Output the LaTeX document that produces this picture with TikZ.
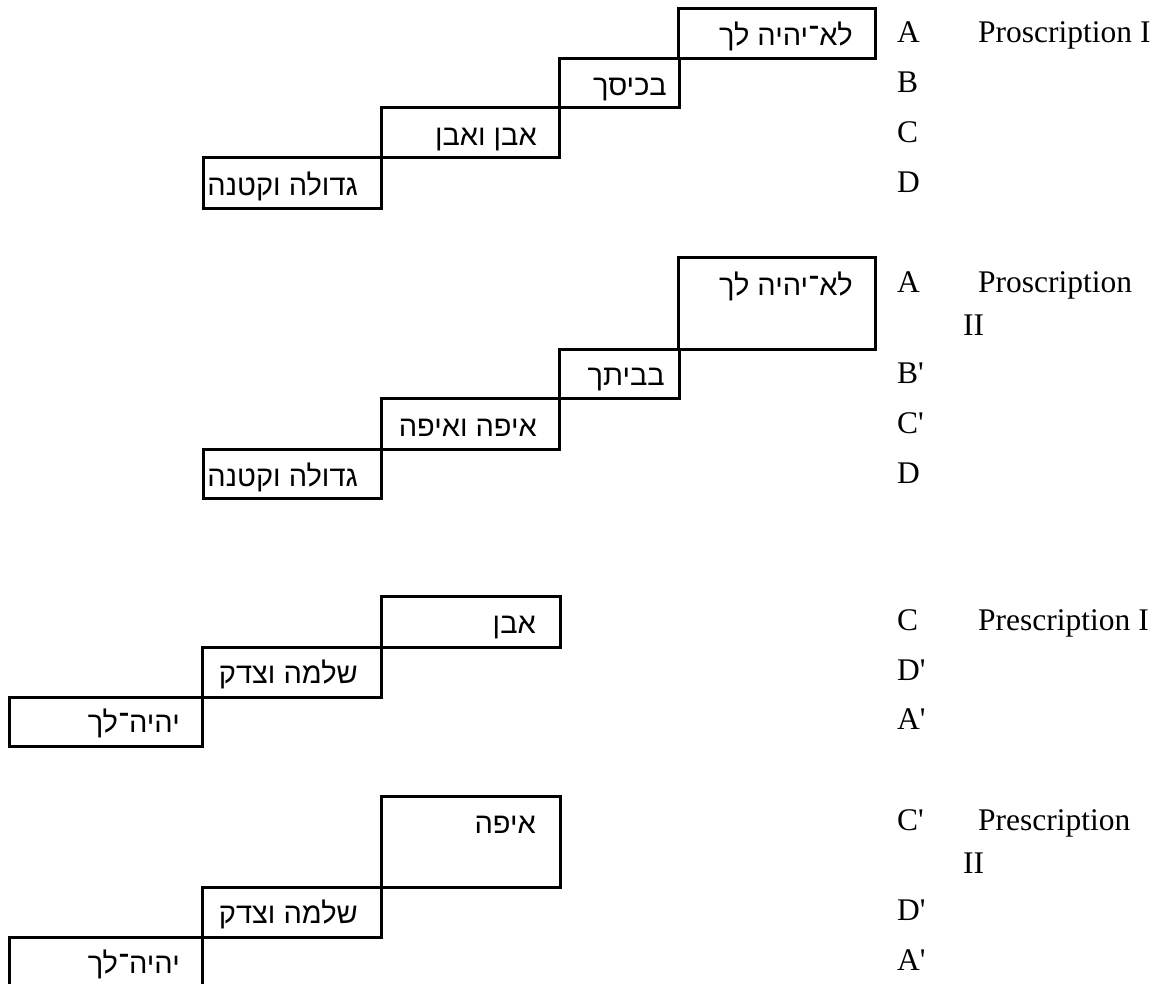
\documentclass[tikz,border=0pt]{standalone}
\usepackage{fontspec}
\TeXXeTstate=1
\newfontfamily\latfont{Liberation Serif}
\newfontfamily\hebfont[Script=Hebrew]{Liberation Sans}
\newcommand{\pr}{\char"27\relax}
\begin{document}
\begin{tikzpicture}[x=1pt,y=-1pt,
  cell/.style={draw=black, line width=3pt, inner sep=0pt, outer sep=0pt},
  heb/.style={anchor=base east, inner sep=0pt, font=\hebfont\fontsize{29}{34}\selectfont},
  lat/.style={anchor=base west, inner sep=0pt, font=\latfont\fontsize{31.5}{37}\selectfont}]
\fill[white] (0,0) rectangle (1166,984);
\useasboundingbox (0,0) rectangle (1166,984);
% ---------- Block 1: Proscription I ----------
\node[cell, minimum width=197pt, minimum height=50pt] (p1a) at (776.5,34) {};
\node[cell, minimum width=120pt, minimum height=49pt] (p1b) at (619,83.5) {};
\node[cell, minimum width=178pt, minimum height=50pt] (p1c) at (470,133) {};
\node[cell, minimum width=178pt, minimum height=51pt] (p1d) at (292,183.5) {};
\node[heb] (t1a) at (853,46) {\beginR לא־יהיה לך\endR};
\node[heb] (t1b) at (667,96) {\beginR בכיסך\endR};
\node[heb] (t1c) at (537,146) {\beginR אבן ואבן\endR};
\node[heb] (t1d) at (358,196) {\beginR גדולה וקטנה\endR};
\node[lat] (l1a) at (897,43) {A};
\node[lat] (l1b) at (897,93) {B};
\node[lat] (l1c) at (897,143) {C};
\node[lat] (l1d) at (897,193) {D};
\node[lat] (h1) at (978,43) {Proscription I};
% ---------- Block 2: Proscription II ----------
\node[cell, minimum width=197pt, minimum height=92pt] (p2a) at (776.5,303) {};
\node[cell, minimum width=120pt, minimum height=49pt] (p2b) at (619,373.5) {};
\node[cell, minimum width=178pt, minimum height=51pt] (p2c) at (470,423.5) {};
\node[cell, minimum width=178pt, minimum height=49pt] (p2d) at (292,473.5) {};
\node[heb] (t2a) at (853,295) {\beginR לא־יהיה לך\endR};
\node[heb] (t2b) at (665,385) {\beginR בביתך\endR};
\node[heb] (t2c) at (537,436) {\beginR איפה ואיפה\endR};
\node[heb] (t2d) at (358,486) {\beginR גדולה וקטנה\endR};
\node[lat] (l2a) at (897,292) {A};
\node[lat] (l2b) at (897,383) {B\pr};
\node[lat] (l2c) at (897,433) {C\pr};
\node[lat] (l2d) at (897,483) {D};
\node[lat] (h2) at (978,292) {Proscription};
\node[lat] (h2b) at (963,335) {II};
% ---------- Block 3: Prescription I ----------
\node[cell, minimum width=179pt, minimum height=51pt] (p3c) at (470.5,621.5) {};
\node[cell, minimum width=179pt, minimum height=50pt] (p3d) at (291.5,672) {};
\node[cell, minimum width=193pt, minimum height=49pt] (p3a) at (105.5,721.5) {};
\node[heb] (t3c) at (536,633) {\beginR אבן\endR};
\node[heb] (t3d) at (358,683) {\beginR שלמה וצדק\endR};
\node[heb] (t3a) at (180,732) {\beginR יהיה־לך\endR};
\node[lat] (l3c) at (897,630) {C};
\node[lat] (l3d) at (897,680) {D\pr};
\node[lat] (l3a) at (897,729) {A\pr};
\node[lat] (h3) at (978,630) {Prescription I};
% ---------- Block 4: Prescription II ----------
\node[cell, minimum width=179pt, minimum height=91pt] (p4c) at (470.5,841.5) {};
\node[cell, minimum width=179pt, minimum height=50pt] (p4d) at (291.5,912) {};
\node[cell, minimum width=193pt, minimum height=70pt] (p4a) at (105.5,972) {};
\node[heb] (t4c) at (536,833) {\beginR איפה\endR};
\node[heb] (t4d) at (358,923) {\beginR שלמה וצדק\endR};
\node[heb] (t4a) at (180,973) {\beginR יהיה־לך\endR};
\node[lat] (l4c) at (897,830) {C\pr};
\node[lat] (l4d) at (897,920) {D\pr};
\node[lat] (l4a) at (897,970) {A\pr};
\node[lat] (h4) at (978,830) {Prescription};
\node[lat] (h4b) at (963,873) {II};
\end{tikzpicture}
\end{document}
